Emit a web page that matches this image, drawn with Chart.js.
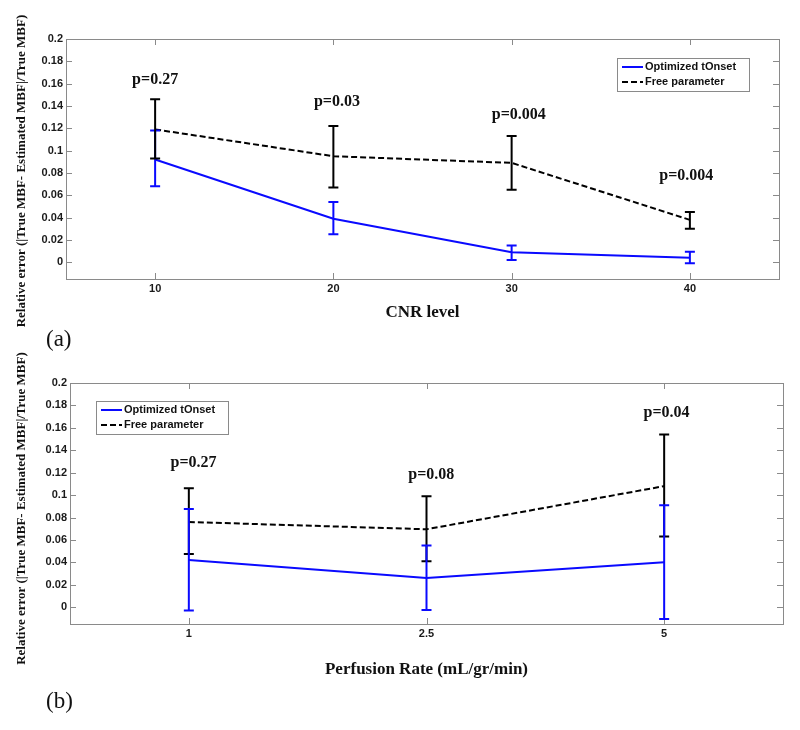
<!DOCTYPE html>
<html>
<head>
<meta charset="utf-8">
<script src="https://cdn.jsdelivr.net/npm/chart.js@4.4.0/dist/chart.umd.min.js"></script>
<style>
  html, body { margin: 0; padding: 0; background: #fff; }
  #wrap { position: relative; width: 800px; height: 730px; }
  canvas { position: absolute; left: 0; }
  #chartA { top: 0; }
  #chartB { top: 340px; }
  .panel { position: absolute; left: 46px; font: 23px 'Liberation Serif', 'Times New Roman', serif; color: #111; }
</style>
</head>
<body>
<div id="wrap">
  <canvas id="chartA" width="800" height="330"></canvas>
  <canvas id="chartB" width="800" height="345"></canvas>
  <div class="panel" style="top:326px">(a)</div>
  <div class="panel" style="top:688px">(b)</div>
</div>
<script>
// shared y axis
const yTicks = [0, 0.02, 0.04, 0.06, 0.08, 0.1, 0.12, 0.14, 0.16, 0.18, 0.2];
const yTickLabels = ['0', '0.02', '0.04', '0.06', '0.08', '0.1', '0.12', '0.14', '0.16', '0.18', '0.2'];
const yTitle = 'Relative error (|True MBF- Estimated MBF|/True MBF)';
const seriesNames = ['Optimized tOnset', 'Free parameter'];

// panel (a): CNR level
const cnrLevels = [10, 20, 30, 40];
const cnrOptimized = [0.092, 0.039, 0.009, 0.004];
const cnrOptimizedHi = [0.118, 0.054, 0.015, 0.0095];
const cnrOptimizedLo = [0.068, 0.025, 0.002, -0.001];
const cnrFree = [0.119, 0.095, 0.089, 0.038];
const cnrFreeHi = [0.146, 0.122, 0.113, 0.045];
const cnrFreeLo = [0.093, 0.067, 0.065, 0.030];
const cnrPText = ['p=0.27', 'p=0.03', 'p=0.004', 'p=0.004'];
const cnrPX = [10, 20.2, 30.4, 39.8];
const cnrPY = [0.163, 0.144, 0.132, 0.077];

// panel (b): perfusion rate
const perfRates = ['1', '2.5', '5'];
const perfOptimized = [0.042, 0.026, 0.040];
const perfOptimizedHi = [0.0875, 0.055, 0.091];
const perfOptimizedLo = [-0.003, -0.0025, -0.0105];
const perfFree = [0.076, 0.0695, 0.108];
const perfFreeHi = [0.106, 0.099, 0.154];
const perfFreeLo = [0.0475, 0.041, 0.063];
const perfPText = ['p=0.27', 'p=0.08', 'p=0.04'];
const perfPX = [0.02, 1.02, 2.01];
const perfPY = [0.129, 0.118, 0.1735];

const BLUE = '#0a0aff';
const BLACK = '#000000';
const serif = "'Liberation Serif', 'Times New Roman', serif";
const sans = "'Liberation Sans', Arial, sans-serif";

// MATLAB style box with inward ticks
const matlabFrame = {
    id: 'matlabFrame',
    beforeDatasetsDraw(chart) {
        const { ctx, chartArea: a, scales: { x, y } } = chart;
        ctx.save();
        ctx.strokeStyle = '#8a8a8a';
        ctx.lineWidth = 1;
        ctx.beginPath();
        y.ticks.forEach(t => {
            const py = Math.round(y.getPixelForValue(t.value)) + 0.5;
            ctx.moveTo(a.left, py); ctx.lineTo(a.left + 6, py);
            ctx.moveTo(a.right, py); ctx.lineTo(a.right - 6, py);
        });
        x.ticks.forEach((t, i) => {
            const px = Math.round(x.getPixelForTick(i)) + 0.5;
            ctx.moveTo(px, a.bottom); ctx.lineTo(px, a.bottom - 6);
            ctx.moveTo(px, a.top); ctx.lineTo(px, a.top + 6);
        });
        ctx.stroke();
        ctx.strokeRect(Math.round(a.left) + 0.5, Math.round(a.top) + 0.5, Math.round(a.width), Math.round(a.height));
        ctx.restore();
    }
};

// vertical error bars with caps
const errorBars = {
    id: 'errorBars',
    afterDatasetsDraw(chart, args, opts) {
        const { ctx, scales: { y } } = chart;
        ctx.save();
        opts.order.forEach(di => {
            const ds = chart.data.datasets[di];
            const meta = chart.getDatasetMeta(di);
            ctx.strokeStyle = ds.borderColor;
            ctx.lineWidth = 2;
            ctx.setLineDash([]);
            meta.data.forEach((pt, j) => {
                const top = y.getPixelForValue(ds.errorHi[j]);
                const bot = y.getPixelForValue(ds.errorLo[j]);
                ctx.beginPath();
                ctx.moveTo(pt.x, top); ctx.lineTo(pt.x, bot);
                ctx.moveTo(pt.x - 5, top); ctx.lineTo(pt.x + 5, top);
                ctx.moveTo(pt.x - 5, bot); ctx.lineTo(pt.x + 5, bot);
                ctx.stroke();
            });
        });
        ctx.restore();
    }
};

// p-values, axis titles and boxed legend
const annotate = {
    id: 'annotate',
    afterDraw(chart, args, opts) {
        const { ctx, chartArea: a, scales: { x, y } } = chart;
        ctx.save();
        ctx.fillStyle = '#111';
        ctx.textAlign = 'center';
        ctx.textBaseline = 'middle';
        ctx.font = 'bold 16px ' + serif;
        opts.pText.forEach((t, i) => {
            ctx.fillText(t, x.getPixelForValue(opts.pX[i]), y.getPixelForValue(opts.pY[i]));
        });

        ctx.font = 'bold 17px ' + serif;
        ctx.fillText(opts.xTitle, (a.left + a.right) / 2, a.bottom + opts.xTitleGap);

        ctx.save();
        ctx.translate(22, (a.top + a.bottom) / 2 + opts.yTitleShift);
        ctx.rotate(-Math.PI / 2);
        ctx.font = 'bold 13px ' + serif;
        ctx.fillText(yTitle, 0, 0);
        ctx.restore();

        // legend box
        const lg = opts.legend;
        const bx = lg.fromRight ? a.right - lg.dx - 132 : a.left + lg.dx;
        const by = a.top + lg.dy;
        ctx.fillStyle = '#fff';
        ctx.fillRect(bx, by, 132, 33);
        ctx.strokeStyle = '#8a8a8a';
        ctx.lineWidth = 1;
        ctx.strokeRect(bx + 0.5, by + 0.5, 132, 33);
        ctx.textAlign = 'left';
        ctx.font = 'bold 11px ' + sans;
        chart.data.datasets.forEach((ds, i) => {
            const ry = by + 9 + i * 15;
            ctx.strokeStyle = ds.borderColor;
            ctx.lineWidth = 2;
            ctx.setLineDash(ds.borderDash || []);
            ctx.beginPath();
            ctx.moveTo(bx + 5, ry); ctx.lineTo(bx + 26, ry);
            ctx.stroke();
            ctx.fillStyle = '#111';
            ctx.fillText(ds.label, bx + 28, ry);
        });
        ctx.restore();
    }
};

function yScale(width) {
    return {
        type: 'linear',
        min: -0.015,
        max: 0.2,
        afterBuildTicks: s => { s.ticks = yTicks.map(v => ({ value: v })); },
        afterFit: s => { s.width = width; },
        grid: { display: false, drawTicks: false },
        border: { display: false },
        ticks: {
            padding: 3,
            color: '#1a1a1a',
            font: { family: sans, size: 11, weight: 'bold' },
            callback: (v, i) => yTickLabels[i]
        }
    };
}

const xTickStyle = {
    padding: 3,
    color: '#1a1a1a',
    maxRotation: 0,
    font: { family: sans, size: 11, weight: 'bold' }
};

function makeDatasets(opt, optHi, optLo, free, freeHi, freeLo) {
    return [{
        label: seriesNames[0],
        data: opt,
        errorHi: optHi,
        errorLo: optLo,
        borderColor: BLUE,
        borderWidth: 2,
        pointRadius: 0,
        tension: 0,
        fill: false
    }, {
        label: seriesNames[1],
        data: free,
        errorHi: freeHi,
        errorLo: freeLo,
        borderColor: BLACK,
        borderWidth: 2,
        borderDash: [6, 3],
        pointRadius: 0,
        tension: 0,
        fill: false
    }];
}

new Chart(document.getElementById('chartA'), {
    type: 'line',
    data: {
        datasets: makeDatasets(
            cnrOptimized.map((v, i) => ({ x: cnrLevels[i], y: v })), cnrOptimizedHi, cnrOptimizedLo,
            cnrFree.map((v, i) => ({ x: cnrLevels[i], y: v })), cnrFreeHi, cnrFreeLo)
    },
    options: {
        responsive: false,
        animation: false,
        devicePixelRatio: 1,
        layout: { padding: { top: 39, right: 21, bottom: 31, left: 0 } },
        scales: {
            x: {
                type: 'linear',
                min: 5,
                max: 45,
                afterBuildTicks: s => { s.ticks = cnrLevels.map(v => ({ value: v })); },
                afterFit: s => { s.height = 20; },
                grid: { display: false, drawTicks: false },
                border: { display: false },
                ticks: xTickStyle
            },
            y: yScale(66)
        },
        plugins: {
            legend: { display: false },
            tooltip: { enabled: false },
            errorBars: { order: [0, 1] },
            annotate: {
                pText: cnrPText, pX: cnrPX, pY: cnrPY,
                xTitle: 'CNR level', xTitleGap: 34, yTitleShift: 12,
                legend: { fromRight: true, dx: 30, dy: 19 }
            }
        }
    },
    plugins: [matlabFrame, errorBars, annotate]
});

new Chart(document.getElementById('chartB'), {
    type: 'line',
    data: {
        labels: perfRates,
        datasets: makeDatasets(perfOptimized, perfOptimizedHi, perfOptimizedLo, perfFree, perfFreeHi, perfFreeLo)
    },
    options: {
        responsive: false,
        animation: false,
        devicePixelRatio: 1,
        layout: { padding: { top: 43, right: 17, bottom: 41, left: 0 } },
        scales: {
            x: {
                type: 'category',
                offset: true,
                afterFit: s => { s.height = 20; },
                grid: { display: false, drawTicks: false, offset: true },
                border: { display: false },
                ticks: xTickStyle
            },
            y: yScale(70)
        },
        plugins: {
            legend: { display: false },
            tooltip: { enabled: false },
            errorBars: { order: [1, 0] },
            annotate: {
                pText: perfPText, pX: perfPX, pY: perfPY,
                xTitle: 'Perfusion Rate (mL/gr/min)', xTitleGap: 46, yTitleShift: 5,
                legend: { fromRight: false, dx: 26, dy: 18 }
            }
        }
    },
    plugins: [matlabFrame, errorBars, annotate]
});
</script>
</body>
</html>
